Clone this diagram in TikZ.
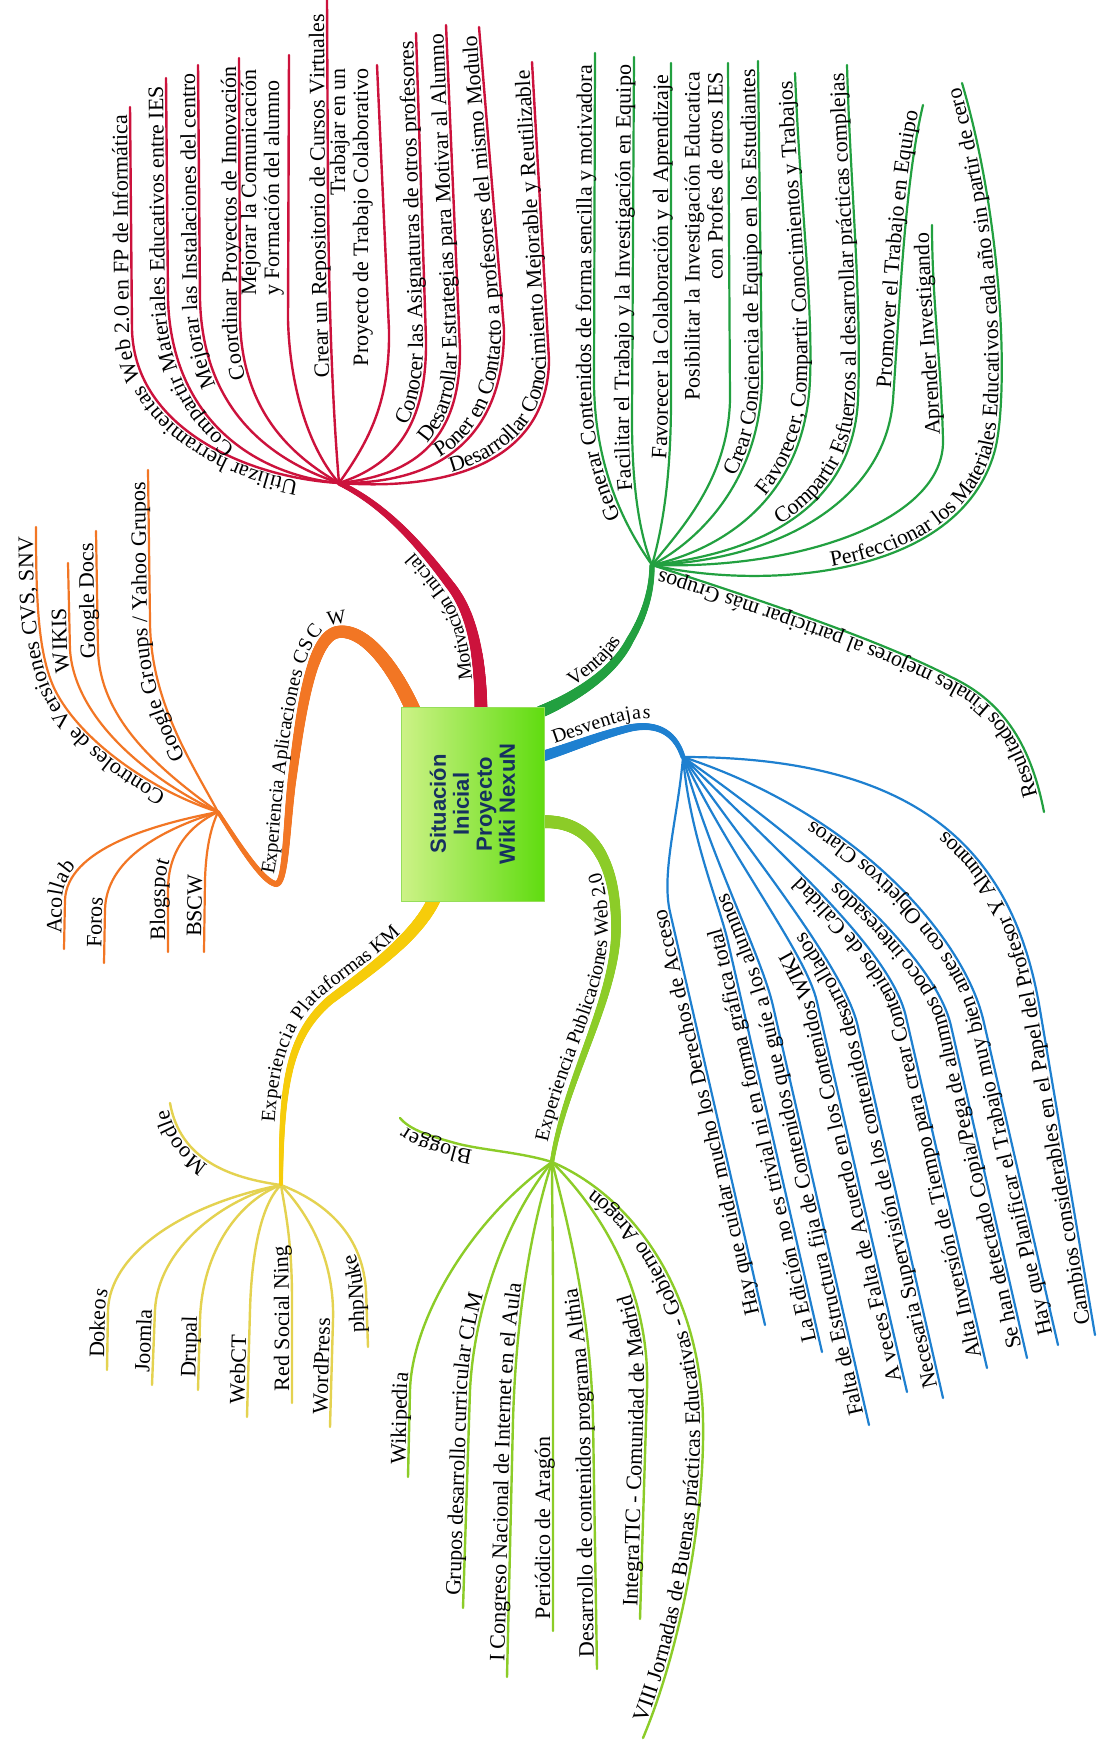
\documentclass[tikz,border=0pt]{standalone}
\usepackage{fontspec}
\setmainfont{Liberation Serif}
\newfontfamily\boxfont{Liberation Sans}
\usetikzlibrary{decorations.text,decorations.markings}
\definecolor{cred}{RGB}{204,18,60}
\definecolor{cgreen}{RGB}{34,160,64}
\definecolor{cblue}{RGB}{30,128,208}
\definecolor{corange}{RGB}{242,118,36}
\definecolor{cyellow}{RGB}{246,204,10}
\definecolor{cyleaf}{RGB}{228,210,80}
\definecolor{clgreen}{RGB}{140,204,40}
\definecolor{cnavy}{RGB}{22,48,96}
\definecolor{boxl}{RGB}{205,242,135}
\definecolor{boxr}{RGB}{96,220,16}
\definecolor{boxb}{RGB}{150,222,90}
\newcommand\lfnt{\fontsize{22}{24}\selectfont}
\newcommand\mfnt{\fontsize{20}{22}\selectfont}
\begin{document}
\begin{tikzpicture}[x=1pt,y=-1pt,line cap=round,line join=round,
  rl/.style={draw=cred,line width=2.4pt},
  gl/.style={draw=cgreen,line width=2.2pt},
  bl/.style={draw=cblue,line width=2.2pt},
  ol/.style={draw=corange,line width=2.2pt},
  yl/.style={draw=cyleaf,line width=2.4pt},
  ll/.style={draw=clgreen,line width=2.4pt},
  tR/.style={postaction={decorate,decoration={text along path,raise=3pt,text align={right,right indent=8pt},text={|\lfnt|#1}}}},
  tRi/.style 2 args={postaction={decorate,decoration={text along path,raise=3pt,text align={right,right indent=#2},text={|\lfnt|#1}}}},
  tL/.style={postaction={decorate,decoration={text along path,raise=3pt,text align={left,left indent=12pt},text={|\lfnt|#1}}}},
  tI/.style 2 args={postaction={decorate,decoration={text along path,raise=3pt,text align={left,left indent=#2},text={|\lfnt|#1}}}},
  tM/.style 2 args={postaction={decorate,decoration={text along path,raise=8pt,text align={left,left indent=#2},text={|\mfnt|#1}}}},
  taper/.style n args={3}{decoration={markings,mark=between positions 0 and 1 step 1pt with {\pgfmathsetmacro\trad{#2+(#3-#2)*\pgfkeysvalueof{/pgf/decoration/mark info/distance from start}/\pgfdecoratedpathlength}\fill[#1] (0,0) circle[radius=\trad pt];}},decorate},
  two/.style={rotate=90,inner sep=0pt,font=\fontsize{22}{23}\selectfont}]
\useasboundingbox (0,0) rectangle (1096,1753);
\fill[white] (0,0) rectangle (1096,1753);

\coordinate (hr) at (339,483);
\coordinate (hg) at (652,565);
\coordinate (hb) at (683,757);
\coordinate (ho) at (218,812);
\coordinate (hy) at (281,1185);
\coordinate (hl) at (552,1162);

% ---------- red leaves
\draw[rl,tR={Utilizar herramientas Web 2.0 en FP de Informática}] (hr) .. controls (250,478) and (135,430) .. (132,330) -- (130,107);
\draw[rl,tR={Compartir Materiales Educativos entre IES}] (hr) .. controls (255,475) and (172,420) .. (168,300) -- (166,78);
\draw[rl,tR={Mejorar las Instalaciones del centro}] (hr) .. controls (270,460) and (203,410) .. (200,300) -- (198,65);
\draw[rl,tR={Coordinar Proyectos de Innovación}] (hr) .. controls (290,455) and (242,410) .. (240,320) -- (239,58);
\draw[rl] (hr) .. controls (310,450) and (290,390) .. (288,320) -- (289,55);
\node[two,anchor=south west,align=left] (r5t) at (284,296) {Mejorar la Comunicación\\y Formación del alumno};
\draw[rl,tRi={Crear un Repositorio de Cursos Virtuales}{14pt}] (hr) .. controls (332,400) and (329,300) .. (328,200) -- (327,0);
\draw[rl] (hr) .. controls (370,440) and (390,400) .. (389,330) -- (377,65);
\node[two,anchor=south east,align=right] (r7t) at (373,68) {Trabajar en un\\Proyecto de Trabajo Colaborativo};
\draw[rl,tR={Conocer las Asignaturas de otros profesores}] (hr) .. controls (395,465) and (427,425) .. (426,340) -- (416,33);
\draw[rl,tR={Desarrollar Estrategias para Motivar al Alumno}] (hr) .. controls (420,475) and (460,435) .. (460,350) -- (446,25);
\draw[rl,tR={Poner en Contacto a profesores del mismo Modulo}] (hr) .. controls (450,484) and (504,428) .. (504,330) -- (479,27);
\draw[rl,tR={Desarrollar Conocimiento Mejorable y Reutilizable}] (hr) .. controls (460,492) and (548,455) .. (549,360) -- (532,62);

% ---------- green leaves
\draw[gl,tRi={Generar Contenidos de forma sencilla y motivadora}{12pt}] (hg) .. controls (620,520) and (594,460) .. (594,380) -- (595,53);
\draw[gl,tR={Facilitar el Trabajo y la Investigación en Equipo}] (hg) .. controls (638,530) and (632,480) .. (632,420) -- (634,57);
\draw[gl,tRi={Favorecer la Colaboración y el Aprendizaje}{12pt}] (hg) .. controls (662,530) and (671,480) .. (671,400) -- (671,63);
\draw[gl] (hg) .. controls (680,530) and (728,480) .. (730,400) -- (728,63);
\node[two,anchor=south east,align=right] (g4t) at (723,72) {Posibilitar la Investigación Educatica\\con Profes de otros IES};
\draw[gl,tR={Crear Conciencia de Equipo en los Estudiantes}] (hg) .. controls (700,540) and (760,480) .. (762,380) -- (758,61);
\draw[gl,tR={Favorecer, Compartir Conocimientos y Trabajos}] (hg) .. controls (720,550) and (805,500) .. (810,380) .. controls (813,300) and (800,200) .. (795,73);
\draw[gl,tR={Compartir Esfuerzos al desarrollar prácticas complejas}] (hg) .. controls (740,555) and (852,520) .. (858,400) .. controls (862,300) and (850,180) .. (847,65);
\draw[gl,tR={Promover el Trabajo en Equipo}] (hg) .. controls (780,560) and (885,500) .. (893,400) .. controls (900,300) and (905,180) .. (923,105);
\draw[gl,tR={Aprender Investigando}] (hg) .. controls (800,570) and (945,520) .. (943,440) .. controls (941,360) and (932,300) .. (932,225);
\draw[gl,tRi={Perfeccionar los Materiales Educativos cada año sin partir de cero}{4pt}] (hg) .. controls (760,590) and (960,580) .. (995,450) .. controls (1008,400) and (1005,230) .. (962,83);
\draw[gl,tI={Resultados Finales mejores al participar más Grupos}{18pt}] (1044,812) .. controls (1030,740) and (1000,700) .. (951,677) .. controls (880,640) and (760,600) .. (hg);

% ---------- blue leaves
\draw[bl,tL={Hay que cuidar mucho los Derechos de Acceso}] (765,1325) -- (670,912) .. controls (661,873) and (678,817) .. (hb);
\draw[bl,tL={La Edición no es trivial ni en forma gráfica total}] (822,1352) -- (728,942) .. controls (719,903) and (690,837) .. (hb);
\draw[bl,tL={Falta de Estructura fija de Contenidos que guíe a los alumnos}] (869,1425) -- (773,1006) .. controls (762,957) and (709,854) .. (hb);
\draw[bl,tL={A veces Falta de Acuerdo en los Contenidos WIKI}] (907,1392) -- (817,1002) .. controls (806,953) and (730,857) .. (hb);
\draw[bl,tL={Necesaria Supervisión de los contenidos desarrollados}] (943,1398) -- (858,1027) .. controls (845,968) and (752,855) .. (hb);
\draw[bl,tL={Alta Inversión de Tiempo para crear Contenidos de Calidad}] (987,1368) -- (906,1017) .. controls (891,950) and (782,856) .. (hb);
\draw[bl,tL={Se han detectado Copia/Pega de alumnos poco interesados}] (1027,1358) -- (951,1026) .. controls (935,955) and (814,849) .. (hb);
\draw[bl,tL={Hay que Planificar el Trabajo muy bien antes con Objetivos Claros}] (1058,1345) -- (984,1023) .. controls (966,940) and (860,815) .. (hb);
\draw[bl,tL={Cambios considerables en el Papel del Profesor Y Alumnos}] (1095,1335) -- (1040,1010) .. controls (1015,860) and (930,757) .. (hb);

% ---------- orange leaves
\draw[ol,tRi={Controles de Versiones CVS, SNV}{10pt}] (ho) .. controls (150,790) and (80,740) .. (55,690) .. controls (38,655) and (36,600) .. (36,527);
\draw[ol,tRi={WIKIS}{45pt}] (ho) .. controls (150,780) and (75,720) .. (70,650) -- (68,563);
\draw[ol,tRi={Google Docs}{12pt}] (ho) .. controls (160,770) and (100,720) .. (98,650) -- (96,531);
\draw[ol,tRi={Google Groups / Yahoo Grupos}{12pt}] (ho) .. controls (190,760) and (150,700) .. (150,620) -- (148,470);
\draw[ol,tI={Acollab}{15pt}] (64,949) -- (65,900) .. controls (67,850) and (150,825) .. (ho);
\draw[ol,tI={Foros}{15pt}] (104,963) -- (105,910) .. controls (106,860) and (160,830) .. (ho);
\draw[ol,tI={Blogspot}{12pt}] (168,952) -- (168,890) .. controls (168,850) and (190,825) .. (ho);
\draw[ol,tI={BSCW}{15pt}] (204,952) -- (205,880) .. controls (206,845) and (212,825) .. (ho);

% ---------- yellow leaves
\draw[yl,tI={Moodle}{75pt}] (hy) .. controls (230,1178) and (180,1160) .. (170,1103);
\draw[yl,tL={Dokeos}] (107,1370) -- (108,1310) .. controls (110,1255) and (180,1205) .. (hy);
\draw[yl,tL={Joomla}] (152,1385) -- (155,1310) .. controls (158,1250) and (220,1200) .. (hy);
\draw[yl,tL={Drupal}] (198,1390) -- (200,1320) .. controls (202,1250) and (240,1200) .. (hy);
\draw[yl,tL={WebCT}] (247,1417) -- (250,1310) .. controls (252,1240) and (265,1200) .. (hy);
\draw[yl,tL={Red Social Ning}] (292,1403) -- (292,1300) .. controls (292,1240) and (285,1210) .. (hy);
\draw[yl,tL={WordPress}] (330,1427) -- (333,1320) .. controls (335,1250) and (300,1205) .. (hy);
\draw[yl,tI={phpNuke}{15pt}] (368,1347) -- (366,1290) .. controls (362,1230) and (320,1200) .. (hy);

% ---------- light green leaves
\draw[ll,tI={Blogger}{80pt}] (hl) .. controls (520,1152) and (480,1150) .. (455,1143) .. controls (430,1136) and (410,1130) .. (400,1118);
\draw[ll,tL={Wikipedia}] (408,1477) -- (410,1390) .. controls (412,1320) and (470,1220) .. (hl);
\draw[ll,tL={Grupos desarrollo curricular CLM}] (463,1608) -- (470,1390) .. controls (474,1310) and (505,1220) .. (hl);
\draw[ll,tI={I Congreso Nacional de Internet en el Aula}{15pt}] (507,1677) -- (513,1420) .. controls (516,1320) and (530,1230) .. (hl);
\draw[ll,tL={Periódico de Aragón}] (553,1631) -- (553,1300) .. controls (553,1240) and (552,1200) .. (hl);
\draw[ll,tL={Desarrollo de contenidos programa Althia}] (597,1669) -- (593,1420) .. controls (591,1320) and (570,1230) .. (hl);
\draw[ll,tL={IntegraTIC - Comunidad de Madrid}] (640,1619) -- (647,1390) .. controls (650,1300) and (610,1220) .. (hl);
\draw[ll,tI={VIII Jornadas de Buenas prácticas Educativas - Gobierno Aragón}{15pt}] (643,1738) .. controls (680,1650) and (705,1520) .. (703,1420) .. controls (701,1300) and (640,1200) .. (hl);

% ---------- main branches (tapered)
\path[taper={cred}{6.5}{2.6}] (481,715) .. controls (481,650) and (470,610) .. (450,585) .. controls (420,545) and (385,505) .. (hr);
\path[tM={Motivación Inicial}{28pt}] (481,707) .. controls (481,650) and (470,610) .. (450,585) .. controls (420,545) and (385,505) .. (hr);

\path[taper={cgreen}{6}{2.6}] (540,712) .. controls (580,695) and (615,670) .. (630,640) .. controls (645,615) and (652,590) .. (hg);
\path[tM={Ventajas}{42pt}] (540,712) .. controls (580,695) and (615,670) .. (630,640) .. controls (645,615) and (652,590) .. (hg);

\path[taper={cblue}{5.5}{2.5}] (540,757) .. controls (570,748) and (600,735) .. (630,728) .. controls (660,722) and (676,735) .. (hb);
\path[tM={Desventajas}{18pt}] (540,757) .. controls (570,748) and (600,735) .. (630,728) .. controls (660,722) and (676,735) .. (hb);

\path[taper={corange}{7.5}{2}] (414,712) .. controls (395,668) and (365,628) .. (338,632) .. controls (310,636) and (300,720) .. (292,780) .. controls (286,830) and (286,884) .. (276,884) .. controls (262,882) and (236,840) .. (ho);
\path[tM={Experiencia Aplicaciones CSCW}{104pt}] (ho) .. controls (236,840) and (262,882) .. (276,884) .. controls (286,884) and (286,830) .. (292,780) .. controls (300,720) and (310,636) .. (338,632) .. controls (365,628) and (395,668) .. (414,706);

\path[taper={cyellow}{6.5}{2}] (436,895) .. controls (420,935) and (370,970) .. (330,1000) .. controls (290,1035) and (281,1080) .. (hy);
\path[tM={Experiencia Plataformas KM}{62pt}] (hy) .. controls (281,1080) and (290,1035) .. (330,1000) .. controls (370,970) and (420,935) .. (436,900);

\path[taper={clgreen}{6.5}{2.2}] (540,822) .. controls (590,818) and (617,860) .. (616,930) .. controls (615,1000) and (565,1080) .. (hl);
\path[tM={Experiencia Publicaciones Web 2.0}{18pt}] (hl) .. controls (565,1080) and (615,1000) .. (616,930) .. controls (617,860) and (590,818) .. (540,822);

% ---------- centre
\node[draw=boxb,line width=1pt,left color=boxl,right color=boxr,minimum width=143pt,minimum height=194pt,inner sep=0pt] (center) at (472.5,804) {};
\node[rotate=90,text=cnavy,align=center,font={\boxfont\bfseries\fontsize{22}{23}\selectfont}] (ctext) at (center) {Situación\\Inicial\\Proyecto\\Wiki NexuN};
\end{tikzpicture}
\end{document}
